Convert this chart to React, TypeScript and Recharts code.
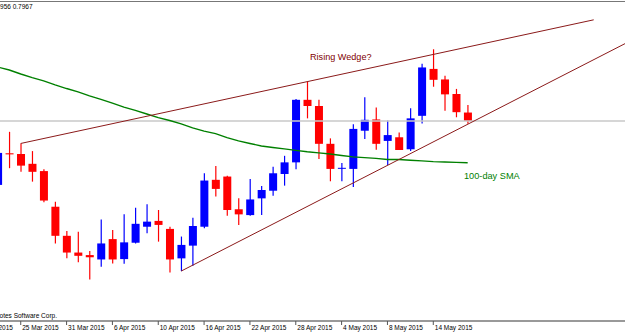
import { Bar, ComposedChart, Line, ReferenceLine, XAxis, YAxis } from "recharts"

// AUDUSD daily, 23 Mar – 19 May 2015
const dates = [
	"23 Mar 2015", "24 Mar 2015", "25 Mar 2015", "26 Mar 2015", "27 Mar 2015", "30 Mar 2015",
	"31 Mar 2015", "1 Apr 2015", "2 Apr 2015", "3 Apr 2015", "6 Apr 2015", "7 Apr 2015",
	"8 Apr 2015", "9 Apr 2015", "10 Apr 2015", "13 Apr 2015", "14 Apr 2015", "15 Apr 2015",
	"16 Apr 2015", "17 Apr 2015", "20 Apr 2015", "21 Apr 2015", "22 Apr 2015", "23 Apr 2015",
	"24 Apr 2015", "27 Apr 2015", "28 Apr 2015", "29 Apr 2015", "30 Apr 2015", "1 May 2015",
	"4 May 2015", "5 May 2015", "6 May 2015", "7 May 2015", "8 May 2015", "11 May 2015",
	"12 May 2015", "13 May 2015", "14 May 2015", "15 May 2015", "18 May 2015", "19 May 2015",
]

const opens = [
	0.7792, 0.7879, 0.7877, 0.785, 0.783, 0.7732, 0.7652, 0.7606, 0.7599, 0.7587, 0.7643, 0.7588,
	0.7633, 0.7677, 0.7693, 0.7671, 0.759, 0.7625, 0.7677, 0.7806, 0.7815, 0.7725, 0.7709, 0.7755,
	0.7776, 0.7822, 0.7854, 0.8026, 0.8009, 0.7905, 0.7837, 0.7836, 0.7941, 0.7972, 0.7913, 0.7923,
	0.789, 0.7982, 0.8111, 0.8082, 0.8042, 0.7991,
]
const highs = [
	0.7888, 0.7938, 0.7906, 0.7885, 0.7835, 0.7746, 0.7665, 0.7663, 0.761, 0.7697, 0.7668, 0.7711,
	0.7729, 0.7739, 0.7723, 0.7677, 0.765, 0.7702, 0.7824, 0.7844, 0.7817, 0.7755, 0.7808, 0.7789,
	0.7842, 0.7872, 0.8028, 0.8076, 0.8026, 0.792, 0.7852, 0.7959, 0.8033, 0.8005, 0.7969, 0.7936,
	0.8003, 0.8125, 0.8165, 0.8092, 0.8056, 0.8012,
]
const lows = [
	0.7784, 0.7838, 0.7828, 0.7801, 0.7744, 0.7631, 0.759, 0.7579, 0.7532, 0.7567, 0.7576, 0.7575,
	0.7631, 0.7659, 0.7636, 0.7551, 0.7555, 0.757, 0.7673, 0.776, 0.7707, 0.7682, 0.7707, 0.7709,
	0.7762, 0.779, 0.7835, 0.7975, 0.7863, 0.7802, 0.7802, 0.7786, 0.7918, 0.7889, 0.7847, 0.7888,
	0.7885, 0.7961, 0.8062, 0.7996, 0.7978, 0.796,
]
const closes = [
	0.788, 0.7876, 0.7845, 0.7828, 0.7749, 0.7652, 0.7606, 0.7597, 0.7593, 0.7631, 0.7587, 0.7634,
	0.7685, 0.7691, 0.7682, 0.7587, 0.7627, 0.7679, 0.7804, 0.7781, 0.7723, 0.7711, 0.7752, 0.7778,
	0.7824, 0.7854, 0.8026, 0.8009, 0.7905, 0.7836, 0.7839, 0.7946, 0.7971, 0.7905, 0.7929, 0.7888,
	0.7975, 0.8115, 0.8081, 0.8041, 0.7992, 0.7968,
]
const sma100 = [
	0.8116, 0.8108, 0.8097, 0.8087, 0.8078, 0.8067, 0.8057, 0.8048, 0.8037, 0.8027, 0.8017, 0.8006,
	0.7997, 0.7987, 0.7977, 0.7969, 0.796, 0.7949, 0.794, 0.7933, 0.7922, 0.7913, 0.7906, 0.7899,
	0.7895, 0.7891, 0.7887, 0.7883, 0.788, 0.7877, 0.7873, 0.7869, 0.7867, 0.7865, 0.7862, 0.7862,
	0.786, 0.7858, 0.7856, 0.7855, 0.7854, 0.7853,
]

// axis ticks every 4 bars (index into dates, -2 is the bar before the window)
const tickIdx = [-2, 2, 6, 10, 14, 18, 22, 26, 30, 34, 38]
const tickLabels = [
	"19 Mar 2015", "25 Mar 2015", "31 Mar 2015", "6 Apr 2015", "10 Apr 2015", "16 Apr 2015",
	"22 Apr 2015", "28 Apr 2015", "4 May 2015", "8 May 2015", "14 May 2015",
]

// wedge lines: [bar index, price]
const upperWedge = [
	{ x: 2, y: 0.7906 },
	{ x: 52, y: 0.8246 },
]
const lowerWedge = [
	{ x: 16, y: 0.7555 },
	{ x: 56, y: 0.8201 },
]

const candles = dates.map((d, i) => ({
	i,
	date: d,
	open: opens[i],
	close: closes[i],
	range: [lows[i], highs[i]],
	sma: sma100[i],
}))

const lastClose = closes[closes.length - 1]

const BULL = "#0000ff"
const BEAR = "#ff0000"
const FONT = "'Liberation Sans', Arial, sans-serif"

function Candle(props: any) {
	const { x, y, width, height, payload } = props
	const [low, high] = payload.range
	const pix = (v: number) => y + ((high - v) / (high - low)) * height
	const up = payload.close >= payload.open
	const color = up ? BULL : BEAR
	const top = pix(Math.max(payload.open, payload.close))
	const bot = pix(Math.min(payload.open, payload.close))
	const cx = x + width / 2
	return (
		<g>
			<line x1={cx} x2={cx} y1={y} y2={y + height} stroke={color} strokeWidth={1.2} />
			<rect x={x} y={top} width={width} height={Math.max(bot - top, 1)} fill={color} />
		</g>
	)
}

function DateTick(props: any) {
	const { x, y, payload } = props
	const label = tickLabels[tickIdx.indexOf(payload.value)]
	return (
		<text x={x + 1.5} y={y + 3} fontSize={6.5} fontFamily={FONT} fill="#000">
			{label}
		</text>
	)
}

export default function App() {
	return (
		<div
			style={{
				position: "absolute",
				left: 0,
				top: 0,
				width: 625,
				height: 333,
				background: "#fff",
				overflow: "hidden",
			}}
		>
			<ComposedChart
				width={625}
				height={333}
				data={candles}
				margin={{ top: 0, right: 0, bottom: 0, left: 0 }}
			>
				<XAxis
					dataKey="i"
					type="number"
					domain={[0.19, 54.73]}
					allowDataOverflow
					ticks={tickIdx}
					interval={0}
					height={12}
					tickSize={4}
					tickLine={{ stroke: "#555" }}
					axisLine={{ stroke: "#777", strokeWidth: 1.5 }}
					tick={<DateTick />}
				/>
				<YAxis hide type="number" domain={[0.741775, 0.83005]} allowDataOverflow />
				<ReferenceLine y={lastClose} stroke="#c8c8c8" strokeWidth={1.5} />
				<Line
					dataKey="sma"
					stroke="#008000"
					strokeWidth={1.4}
					dot={false}
					isAnimationActive={false}
				/>
				<Bar dataKey="range" barSize={8} shape={<Candle />} isAnimationActive={false} />
				<ReferenceLine segment={upperWedge} stroke="#8b1a1a" strokeWidth={1} ifOverflow="hidden" />
				<ReferenceLine segment={lowerWedge} stroke="#8b1a1a" strokeWidth={1} ifOverflow="hidden" />
			</ComposedChart>
			<svg
				width={625}
				height={333}
				style={{ position: "absolute", left: 0, top: 0, pointerEvents: "none" }}
			>
				<line x1={0} x2={625} y1={1.5} y2={1.5} stroke="#777" strokeWidth={1} />
				<text x={-9} y={9.3} fontSize={6.5} fontFamily={FONT} fill="#000">
					0.7956 0.7967
				</text>
				<text x={57} y={317.5} fontSize={6.5} fontFamily={FONT} fill="#000" textAnchor="end">
					MetaQuotes Software Corp.
				</text>
				<text x={310} y={60} fontSize={9.1} fontFamily={FONT} fill="#800000">
					Rising Wedge?
				</text>
				<text x={464} y={179} fontSize={9.2} fontFamily={FONT} fill="#008000">
					100-day SMA
				</text>
			</svg>
		</div>
	)
}
